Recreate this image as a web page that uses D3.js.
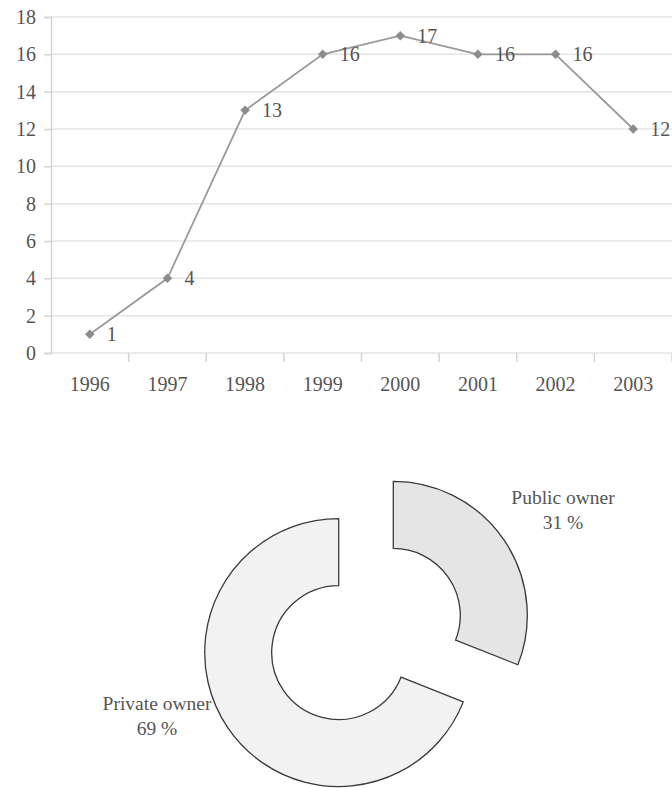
<!DOCTYPE html>
<html>
<head>
<meta charset="utf-8">
<script src="https://cdn.jsdelivr.net/npm/d3@7"></script>
<style>
  html, body { margin: 0; padding: 0; background: #fff; }
  svg { display: block; }
  text { font-family: "Liberation Serif", "Times New Roman", serif; fill: #555; }
</style>
</head>
<body>
<svg id="chart" width="672" height="788"></svg>
<script>
// Line chart data: count per year
const years = ["1996", "1997", "1998", "1999", "2000", "2001", "2002", "2003"];
const counts = [1, 4, 13, 16, 17, 16, 16, 12];
const yTicks = [0, 2, 4, 6, 8, 10, 12, 14, 16, 18];

// Donut data: ownership share in percent
const owners = ["Public owner", "Private owner"];
const shares = [31, 69];

const svg = d3.select("#chart");
const serif = "Liberation Serif, Times New Roman, serif";

// ---- Line chart ----
const x = d3.scaleBand().domain(years).range([51, 672]);
const y = d3.scaleLinear().domain([0, 18]).range([353, 17]);

const grid = svg.append("g");
grid.selectAll("line").data(yTicks).join("line")
  .attr("x1", 51).attr("x2", 672)
  .attr("y1", d => y(d)).attr("y2", d => y(d))
  .attr("stroke", "#e4e4e4").attr("stroke-width", 1.5);

const yAxis = svg.append("g").attr("transform", "translate(51,0)")
  .call(d3.axisLeft(y).tickValues(yTicks).tickSize(7).tickPadding(8));
yAxis.select(".domain").attr("stroke", "#d4d4d4").attr("stroke-width", 1.5);
yAxis.selectAll(".tick line").attr("stroke", "#d4d4d4").attr("stroke-width", 1.5);
yAxis.selectAll(".tick text").attr("font-size", 20).attr("fill", "#555")
  .attr("font-family", serif);

const xAxis = svg.append("g").attr("transform", "translate(0,353)")
  .call(d3.axisBottom(x).tickSize(0).tickPadding(24));
xAxis.select(".domain").remove();
xAxis.selectAll(".tick text").attr("font-size", 20).attr("fill", "#555")
  .attr("font-family", serif);

// category boundary ticks below the baseline
const bounds = years.map(d => x(d)).concat([x.range()[1]]);
svg.append("g").selectAll("line").data(bounds.slice(1)).join("line")
  .attr("x1", d => d).attr("x2", d => d)
  .attr("y1", 353).attr("y2", 362)
  .attr("stroke", "#d4d4d4").attr("stroke-width", 1.5);

const pts = years.map((yr, i) => ({ yr, v: counts[i] }));
const cx = d => x(d.yr) + x.bandwidth() / 2;

svg.append("path").datum(pts)
  .attr("fill", "none").attr("stroke", "#9a9a9a").attr("stroke-width", 1.8)
  .attr("d", d3.line().x(cx).y(d => y(d.v)));

// diamond markers (rotated squares)
svg.append("g").selectAll("path").data(pts).join("path")
  .attr("transform", d => `translate(${cx(d)},${y(d.v)}) rotate(45)`)
  .attr("d", d3.symbol(d3.symbolSquare, 45))
  .attr("fill", "#8c8c8c");

svg.append("g").selectAll("text").data(pts).join("text")
  .attr("x", d => cx(d) + 17).attr("y", d => y(d.v))
  .attr("dy", "0.35em").attr("font-size", 20)
  .text(d => d.v);

// ---- Donut chart ----
const center = [366, 634];
const explode = 33;
const pie = d3.pie().sort(null).value(d => d.v);
const arcs = pie(owners.map((o, i) => ({ o, v: shares[i] })));
const arc = d3.arc().innerRadius(67).outerRadius(134);
const fills = ["#e5e5e5", "#f2f2f2"];

const donut = svg.append("g").attr("transform", `translate(${center[0]},${center[1]})`);

// slice labels (drawn first so the ring sits on top): name, then percent
const labelPos = [[197, -130], [-209, 76]];
const lab = donut.selectAll("g.lab").data(arcs).join("g")
  .attr("class", "lab")
  .attr("transform", (d, i) => `translate(${labelPos[i][0]},${labelPos[i][1]})`);
lab.append("text").attr("text-anchor", "middle").attr("font-size", 19.5)
  .text(d => d.data.o);
lab.append("text").attr("text-anchor", "middle").attr("font-size", 19.5)
  .attr("y", 25).text(d => d.data.v + " %");

donut.selectAll("path.slice").data(arcs).join("path")
  .attr("class", "slice")
  .attr("transform", d => {
    const a = (d.startAngle + d.endAngle) / 2;
    return `translate(${explode * Math.sin(a)},${-explode * Math.cos(a)})`;
  })
  .attr("d", arc)
  .attr("fill", (d, i) => fills[i])
  .attr("stroke", "#3a3a3a").attr("stroke-width", 1.3);
</script>
</body>
</html>
